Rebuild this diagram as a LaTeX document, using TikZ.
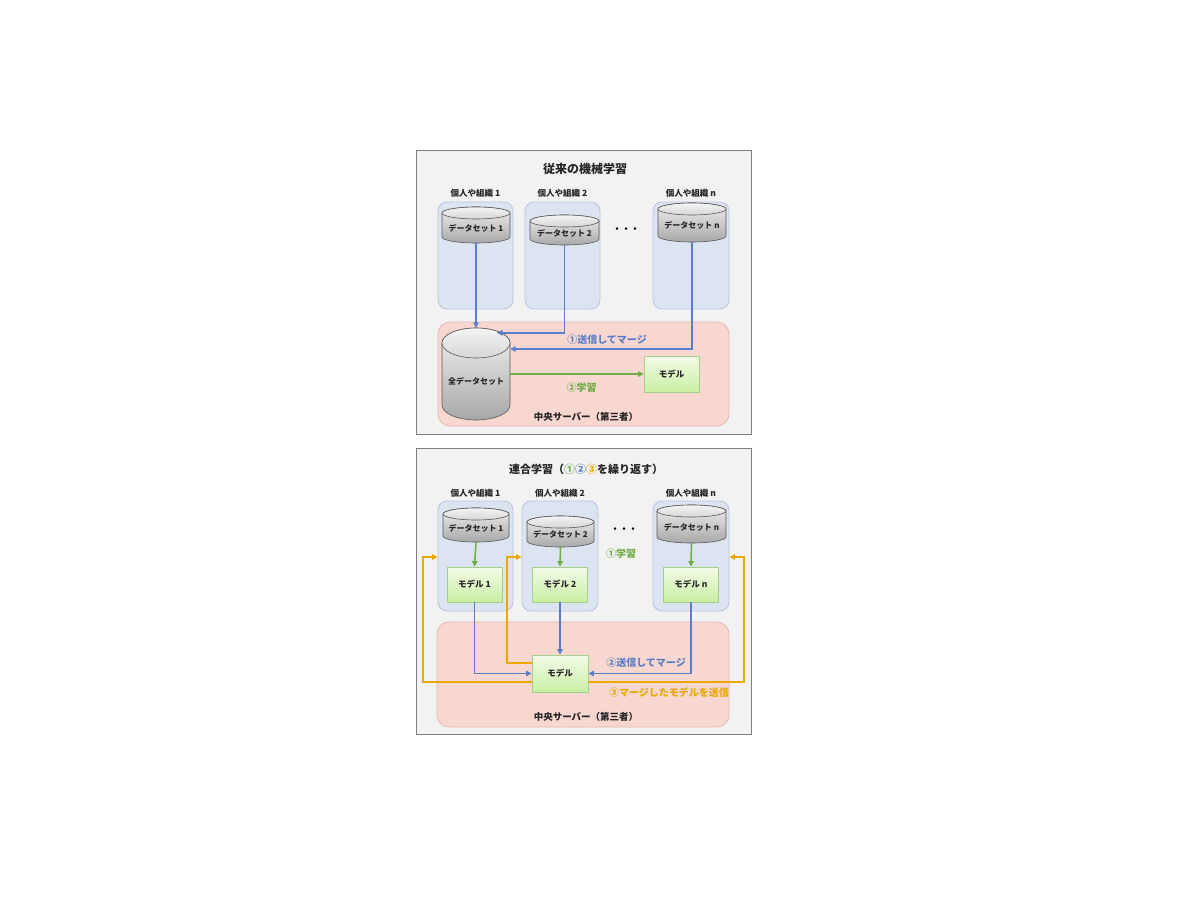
\documentclass[tikz,border=0pt]{standalone}
\usepackage{fontspec}
\setmainfont{Noto Sans CJK JP}
\usetikzlibrary{arrows.meta}

\definecolor{panelfill}{HTML}{F2F2F2}
\definecolor{panelline}{HTML}{7F7F7F}
\definecolor{orgfill}{HTML}{DDE4F1}
\definecolor{orgline}{HTML}{B7C5DF}
\definecolor{svfill}{HTML}{F7D7D0}
\definecolor{svline}{HTML}{E5B8AE}
\definecolor{dbhi}{HTML}{F0F0F0}
\definecolor{dblo}{HTML}{A8A8A8}
\definecolor{dbendhi}{HTML}{F4F4F4}
\definecolor{dbendlo}{HTML}{D6D6D6}
\definecolor{dbline}{HTML}{595959}
\definecolor{mdhi}{HTML}{F3FCE8}
\definecolor{mdlo}{HTML}{C8EFA4}
\definecolor{mdline}{HTML}{A6CF8A}
\definecolor{blueln}{HTML}{5A7EC8}
\definecolor{greenln}{HTML}{70AD47}
\definecolor{orangeln}{HTML}{EBA800}
\definecolor{txtdark}{HTML}{262626}

\tikzset{
  panel/.style={draw=panelline,fill=panelfill,line width=.8pt},
  orgbox/.style={draw=orgline,fill=orgfill,line width=.8pt,rounded corners=9pt,minimum width=75,minimum height=107},
  server/.style={draw=svline,fill=svfill,line width=.8pt,rounded corners=12pt},
  model/.style={draw=mdline,top color=mdhi,bottom color=mdlo,line width=.8pt,minimum width=55,minimum height=36,font=\fontsize{8.5}{10}\selectfont\bfseries,text=txtdark},
  dbtxt/.style={inner sep=0pt,font=\fontsize{8}{10}\selectfont\bfseries,text=txtdark},
  orglbl/.style={font=\fontsize{8.5}{10}\selectfont\bfseries,text=txtdark},
  ttl/.style={font=\fontsize{12}{14}\selectfont\bfseries,text=txtdark},
  step lbl/.style={font=\fontsize{10}{12}\selectfont\bfseries},
  svlbl/.style={font=\fontsize{9.5}{11}\selectfont\bfseries,text=txtdark},
  sendln/.style={->,draw=blueln,line width=1.6pt},
  learnln/.style={->,draw=greenln,line width=1.6pt},
  backln/.style={->,draw=orangeln,line width=1.6pt},
}

% name, cx, cy, half width, half height, end radius, text
\newcommand{\dbcyl}[7]{%
  \shade[top color=dbhi,bottom color=dblo,draw=dbline,line width=.6pt]
    (#2-#4,#3+#5-#6) -- (#2-#4,#3-#5+#6)
    arc[start angle=180,end angle=360,x radius=#4,y radius=#6]
    -- (#2+#4,#3+#5-#6)
    arc[start angle=0,end angle=180,x radius=#4,y radius=#6] -- cycle;
  \shade[top color=dbendhi,bottom color=dbendlo,draw=dbline,line width=.6pt]
    (#2,#3+#5-#6) ellipse[x radius=#4,y radius=#6];
  \node[dbtxt,minimum width=2*#4,minimum height=2*#5] (#1) at (#2,#3)
    {\raisebox{\dimexpr-#6pt/2\relax}[\height][\depth]{#7}};
}

\begin{document}
\begin{tikzpicture}[x=1pt,y=1pt,>={Triangle[length=5.5pt,width=5.5pt]}]
\useasboundingbox (0,0) rectangle (1200,-900);

% ---- upper panel
\draw[panel] (416,-150) rectangle (751,-434);
\node[ttl] (t1) at (585,-169) {従来の機械学習};
\foreach \nm/\x/\w in {1/475.5/75,2/562.5/75,n/691/76}
{
  \node[orgbox,minimum width=\w] (b\nm) at (\x,-255.5) {};
  \node[orglbl] (l\nm) at (\x,-193) {個人や組織 \nm};
}
\node[server,minimum width=291,minimum height=104] (sv) at (583.5,-374) {};
\dbcyl{d1}{476}{-225}{34}{18}{6}{データセット 1}
\dbcyl{d2}{564.5}{-230}{34.5}{15}{6}{データセット 2}
\dbcyl{dn}{692}{-222.5}{34}{19.5}{6}{データセット n}
\node[font=\fontsize{9}{10}\selectfont\bfseries] (dots) at (626,-230) {・・・};
\dbcyl{all}{476}{-374}{34}{46}{15}{全データセット}
\node[model] (mt) at (671.5,-374) {モデル};

\draw[sendln] (d1.south) -- (d1.south |- all.north);
\draw[sendln] (d2.south) |- ([xshift=21pt,yshift=-5pt]all.north);
\draw[sendln] (dn.south) |- ([yshift=25pt]all.east);
\draw[learnln] (all.east) -- (mt.west);

\node[step lbl,text=blueln] (s1) at (607,-340) {①送信してマージ};
\node[step lbl,text=greenln] (s2) at (581.5,-388) {②学習};
\node[svlbl] (v1) at (586,-417) {中央サーバー（第三者）};

% ---- lower panel
\draw[panel] (416,-448) rectangle (751,-734);
\node[font=\fontsize{11}{13}\selectfont\bfseries,text=txtdark] (t2) at (586,-469)
  {連合学習（\textcolor{greenln}{①}\textcolor{blueln}{②}\textcolor{orangeln}{③}を繰り返す）};
\foreach \nm/\x/\w in {1/475.5/75,2/560/76,n/691/76}
{
  \node[orgbox,minimum width=\w,minimum height=110] (B\nm) at (\x,-556) {};
  \node[orglbl] (L\nm) at (\x,-493) {個人や組織 \nm};
}
\node[server,minimum width=292,minimum height=105] (S) at (583,-674.5) {};
\dbcyl{e1}{476}{-525}{33}{17}{6}{データセット 1}
\dbcyl{e2}{560.5}{-531.5}{33.5}{15.5}{6}{データセット 2}
\dbcyl{en}{691.5}{-524}{34.5}{19}{6}{データセット n}
\node[font=\fontsize{9}{10}\selectfont\bfseries] (dots2) at (624,-530) {・・・};
\node[model,minimum height=35] (m1) at (474.5,-584.5) {モデル 1};
\node[model,minimum height=35] (m2) at (560,-584.5) {モデル 2};
\node[model,minimum height=35] (mn) at (691,-584.5) {モデル n};
\node[model,minimum width=56,minimum height=37] (mc) at (560,-673.5) {モデル};

\coordinate (r1) at (423,-557);
\coordinate (r2) at (507,-557);
\coordinate (r3) at (744,-557);

% 1 learn
\draw[learnln] (e1.south) -- (m1.north);
\draw[learnln] (e2.south) -- (m2.north);
\draw[learnln] (en.south) -- (mn.north);
% 2 send and merge
\draw[sendln] (m1.south) |- (mc.west);
\draw[sendln] (m2.south) -- (mc.north);
\draw[sendln] (mn.south) |- (mc.east);
% 3 send back
\draw[backln] ([yshift=-8.5pt]mc.west) -| (r1) -- (r1 -| B1.west);
\draw[backln] ([yshift=10.5pt]mc.west) -| (r2) -- (r2 -| B2.west);
\draw[backln] ([yshift=-8.5pt]mc.east) -| (r3) -- (r3 -| Bn.east);

\node[step lbl,text=greenln] (u1) at (621,-554) {①学習};
\node[step lbl,text=blueln] (u2) at (646,-663) {②送信してマージ};
\node[step lbl,text=orangeln] (u3) at (669,-693) {③マージしたモデルを送信};
\node[svlbl] (v2) at (586,-717) {中央サーバー（第三者）};
\end{tikzpicture}
\end{document}
